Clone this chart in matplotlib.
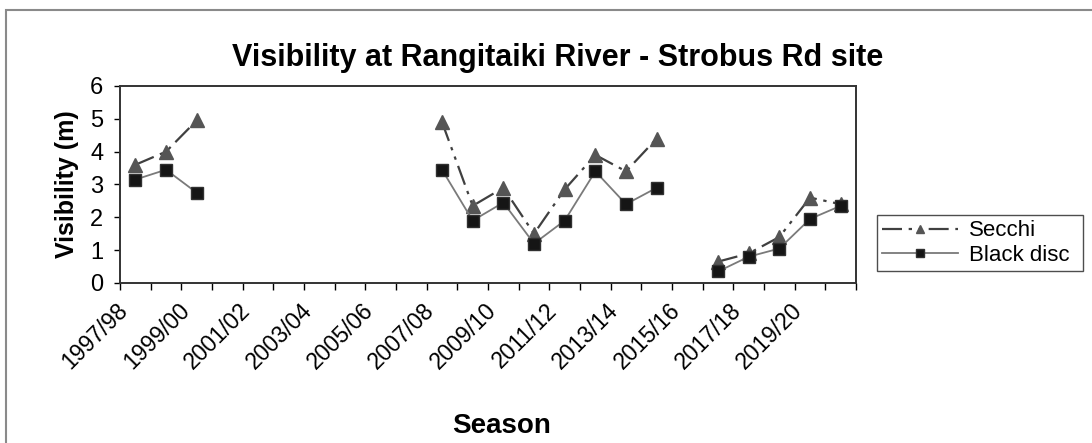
import numpy as np
import matplotlib.pyplot as plt
import matplotlib.transforms as mtransforms
from matplotlib.patches import Rectangle

nan = np.nan

# seasons 1997/98 .. 2020/21
seasons = [f'{y}/{str(y + 1)[-2:]}' for y in range(1997, 2021)]

secchi = [3.6, 4.0, 4.95,
          nan, nan, nan, nan, nan, nan, nan,
          4.9, 2.35, 2.9, 1.5, 2.85, 3.9, 3.4, 4.4,
          nan,
          0.65, 0.9, 1.4, 2.6, 2.4]

black_disc = [3.15, 3.45, 2.75,
              nan, nan, nan, nan, nan, nan, nan,
              3.45, 1.9, 2.45, 1.2, 1.9, 3.4, 2.4, 2.9,
              nan,
              0.35, 0.8, 1.05, 1.95, 2.35]

plt.rcParams['font.family'] = ['Liberation Sans', 'DejaVu Sans']

fig = plt.figure(figsize=(10.92, 4.43), dpi=100)
ax = fig.add_axes([0.1099, 0.3612, 0.674, 0.4447])

x = np.arange(len(seasons))

ax.plot(x, secchi, color='#404040', lw=1.6, dashes=(9, 3, 1.5, 3, 1.5, 3),
        marker='^', markersize=10, markerfacecolor='#555555',
        markeredgecolor='#555555', label='Secchi')
ax.plot(x, black_disc, color='#7a7a7a', lw=1.3, linestyle='-',
        marker='s', markersize=8, markerfacecolor='#151515',
        markeredgecolor='#303030', label='Black disc')

ax.set_xlim(-0.5, len(seasons) - 0.5)
ax.set_ylim(0, 6)
ax.set_yticks(range(0, 7))
ax.tick_params(axis='y', labelsize=17, length=4, width=1, direction='out', pad=8)

ax.set_xticks(x[::2])
ax.set_xticklabels(seasons[::2], rotation=45, ha='right', rotation_mode='anchor',
                   fontsize=16.5)
ax.set_xticks(np.arange(-0.5, len(seasons)), minor=True)
ax.tick_params(axis='x', which='major', length=0, pad=8)
ax.tick_params(axis='x', which='minor', length=5, width=1, direction='out')
# nudge the slanted labels left/down like the original layout
shift = mtransforms.ScaledTranslation(-0.19, -0.05, fig.dpi_scale_trans)
for lbl in ax.get_xticklabels():
    lbl.set_transform(lbl.get_transform() + shift)

for s in ax.spines.values():
    s.set_linewidth(1.4)
    s.set_color('#333333')

fig.text(0.511, 0.869, 'Visibility at Rangitaiki River - Strobus Rd site',
         fontsize=22, fontweight='bold', ha='center', va='center')
ax.set_ylabel('Visibility (m)', fontsize=18, fontweight='bold', labelpad=8)
fig.text(0.459, 0.022, 'Season', fontsize=20, fontweight='bold', ha='center')

leg = fig.legend(loc='center', bbox_to_anchor=(0.803, 0.395, 0.189, 0.113),
                 mode='expand', borderaxespad=0, fontsize=16,
                 handlelength=3.4, handletextpad=0.5, fancybox=False,
                 frameon=True, labelspacing=0.15, borderpad=0.25)
leg.get_frame().set_edgecolor('#222222')
leg.get_frame().set_linewidth(1.0)
for h in leg.legend_handles:
    h.set_markersize(6)

# outer border of the chart area
fig.patches.append(Rectangle((6 / 1092, -0.05), 1.1, 1 - 10 / 443 + 0.05,
                             transform=fig.transFigure, fill=False,
                             edgecolor='#8a8a8a', lw=1.5))

fig.savefig('out.png', dpi=100)
